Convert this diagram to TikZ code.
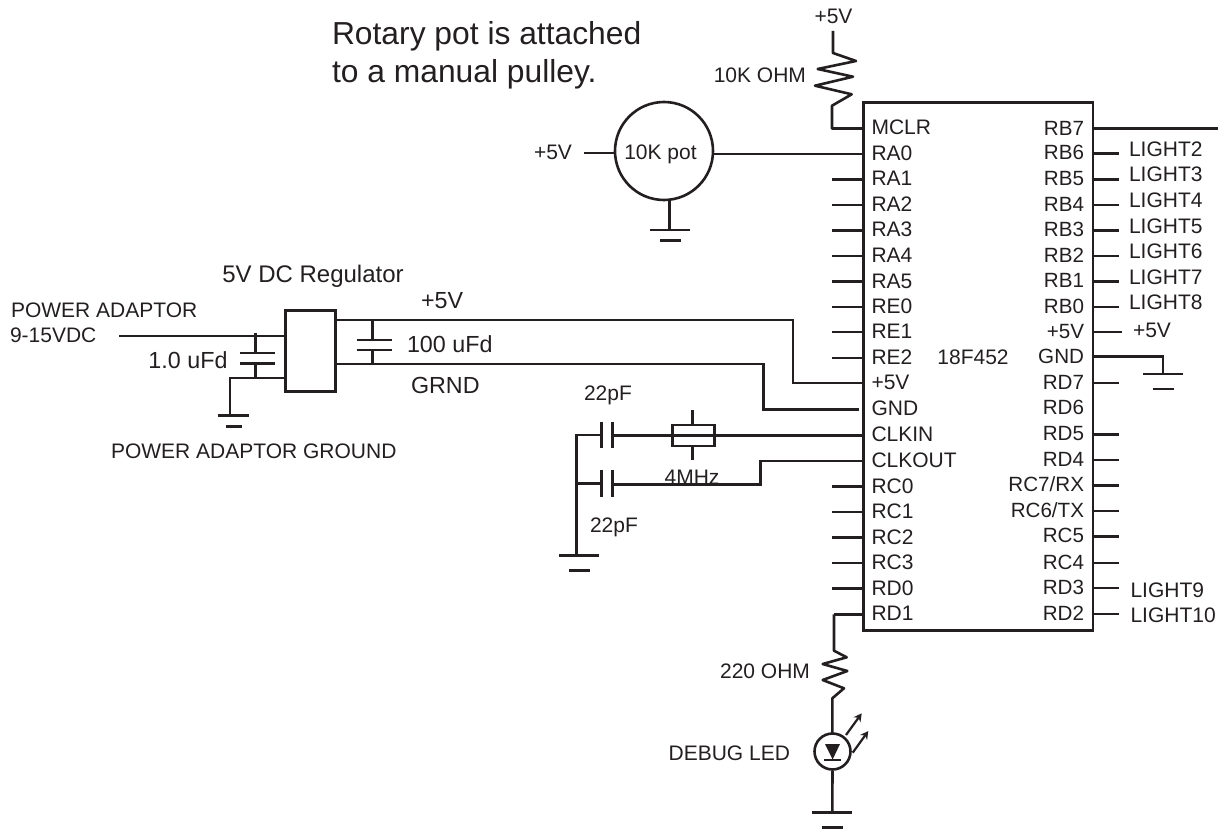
\documentclass[tikz,border=0pt]{standalone}
\usepackage{fontspec}
\setmainfont{Liberation Sans}
\usetikzlibrary{arrows.meta}
\definecolor{ink}{HTML}{231F20}
\tikzset{
  wire/.style={line width=2.6pt,draw=ink,line cap=butt,line join=miter},
  lbl/.style={inner sep=0pt,outer sep=0pt,text=ink,font=\fontsize{21}{24}\selectfont},
  lblb/.style={lbl,font=\fontsize{23.3}{26}\selectfont},
  lpin/.style={lbl,anchor=base west},
  rpin/.style={lbl,anchor=base east,font=\fontsize{20.6}{24}\selectfont},
  big/.style={lbl,anchor=base west,font=\fontsize{31.8}{34}\selectfont},
  pt/.style={inner sep=0pt,minimum size=0pt},
  gnd/.pic={\draw[wire] (-20,0) -- (20,0); \draw[wire] (-10.5,15) -- (10.5,15);},
  tipa/.style={-{Stealth[length=8pt,width=8.5pt]},line width=2.2pt,draw=ink}
}
\begin{document}
\begin{tikzpicture}[x=1pt,y=-1pt]
\useasboundingbox (0,0) rectangle (1218,832);
% chip
\node[draw=ink,line width=2.6pt,inner sep=0,minimum width=229.5pt,minimum height=528pt,anchor=north west] (chip) at (862,101) {};
\node[lbl,anchor=base] (chipname) at (973,364) {18F452};
% left pins
\foreach \n/\t/\y in {mclr/MCLR/128.5,ra0/RA0/154,ra1/RA1/179.5,ra2/RA2/205,ra3/RA3/230.5,ra4/RA4/256,ra5/RA5/281.7,re0/RE0/307,re1/RE1/332,re2/RE2/358,pfive/+5V/383,gndl/GND/409.5,clkin/CLKIN/435.5,clkout/CLKOUT/461,rc0/RC0/486.7,rc1/RC1/512,rc2/RC2/537.7,rc3/RC3/563,rd0/RD0/588.7,rd1/RD1/614.3}{
  \node[pt] (L\n) at (862,\y) {};
  \node[lpin] (T\n) at (871.5,\y+6.3) {\t};
}
\foreach \n in {ra1,ra2,ra3,ra4,ra5,re0,re1,re2,rc0,rc1,rc2,rc3,rd0}{
  \coordinate (E\n) at ([xshift=-30pt]L\n.center);
  \draw[wire] (E\n) -- (L\n.center);
}
% right pins
\foreach \n/\t/\y in {rb7/RB7/128.8,rb6/RB6/153.5,rb5/RB5/179.5,rb4/RB4/205,rb3/RB3/230.5,rb2/RB2/256,rb1/RB1/281.5,rb0/RB0/307,pv/+5V/332,gr/GND/356.7,rd7/RD7/383,rd6/RD6/408.5,rd5/RD5/434.3,rd4/RD4/460,rcs/RC7\slash RX/485.5,rct/RC6\slash TX/511,rc5/RC5/536.3,rc4/RC4/563,rd3/RD3/588,rd2/RD2/614}{
  \node[pt] (R\n) at (1091.5,\y) {};
  \node[rpin] (U\n) at (1084,\y+6.3) {\t};
}
\foreach \n in {rb6,rb5,rb4,rb3,rb2,rb1,rb0,rd7,rd5,rd4,rcs,rct,rc5,rc4,rd3,rd2}{
  \coordinate (F\n) at ([xshift=27.5pt]R\n.center);
  \draw[wire] (R\n.center) -- (F\n);
}
\coordinate (Fpv) at (1122,332);
\draw[wire] (Rpv.center) -- (Fpv);
\coordinate (rb7end) at (1218,128.8);
\draw[wire] (Rrb7.center) -- (rb7end);
% light labels
\foreach \n/\t/\x/\y in {a/LIGHT2/1129/157,b/LIGHT3/1129/182,c/LIGHT4/1129/207,d/LIGHT5/1129/233,e/LIGHT6/1129/258,f/LIGHT7/1129/284,g/LIGHT8/1129/309,h/LIGHT9/1130.5/597,i/LIGHT10/1130.5/622}{
  \node[lbl,anchor=base west] (lt\n) at (\x,\y) {\t};
}
\node[lbl,anchor=base west] (rv) at (1133,337) {+5V};
% GND right
\coordinate (gr1) at (1163,356.7);
\coordinate (gr2) at (1163,374);
\draw[wire] (Rgr.center) -- (gr1) -- (gr2);
\pic at (gr2) {gnd};
% MCLR resistor
\node[lbl,anchor=base] (topv) at (833.5,24) {+5V};
\coordinate (r1a) at (833,31);
\coordinate (r1b) at (832,128.5);
\draw[wire,line join=round] (r1a) -- (833,53) -- (856,61) -- (817.7,69) -- (853,76.7) -- (815,85.7) -- (851.7,94.3) -- (832,105.7) -- (r1b) -- (Lmclr.center);
\node[lbl,anchor=base east] (r1l) at (806,83) {10K OHM};
% Pot
\node[draw=ink,line width=2.6pt,circle,minimum size=98pt,inner sep=0] (pot) at (664,151) {};
\node[lbl,anchor=base] (potl) at (660.5,160) {10K pot};
\coordinate (potr) at ([yshift=-3pt]pot.east);
\draw[wire] (potr) -- (Lra0.center);
\coordinate (pv5) at (584,153);
\coordinate (potw) at ([yshift=-2pt]pot.west);
\draw[wire] (pv5) -- (potw);
\node[lbl,anchor=base] (pv5l) at (553,160) {+5V};
\coordinate (pg) at (669.5,230);
\coordinate (pgt) at (669.5,200);
\draw[wire] (pgt) -- (pg);
\draw[wire] (650,230) -- (690,230);
\draw[wire] (660,240.7) -- (681,240.7);
\node[big] (note1) at (332,45) {Rotary pot is attached};
\node[big] (note2) at (332,83) {to a manual pulley.};
% Regulator
\node[draw=ink,line width=2.6pt,inner sep=0,minimum width=50pt,minimum height=81pt,anchor=north west] (reg) at (284,309) {};
\node[lbl,anchor=base,font=\fontsize{24}{26}\selectfont] (regl) at (313,282) {5V DC Regulator};
\coordinate (pin) at (119,336);
\draw[wire] (pin) -- (reg.west |- pin);
\node[lbl,anchor=base west] (pa1) at (11,317) {POWER ADAPTOR};
\node[lbl,anchor=base west] (pa2) at (10,342) {9-15VDC};
% C1
\draw[wire] (255.7,333) -- (255.7,353); \draw[wire] (240,353) -- (275,353);
\draw[wire] (240,363.7) -- (275,363.7); \draw[wire] (255.7,363.7) -- (255.7,378);
\coordinate (g1) at (230,378);
\coordinate (g2) at (230,415);
\draw[wire] (reg.west |- g1) -- (g1) -- (g2);
\draw[wire] (218,415.5) -- (249,415.5);
\draw[wire] (225.7,426.7) -- (241.7,426.7);
\node[lblb,anchor=base east] (c1l) at (227.5,368) {1.0 uFd};
\node[lbl,anchor=base west] (pag) at (111,458) {POWER ADAPTOR GROUND};
% supply lines
\coordinate (a1) at (336,320);
\coordinate (a2) at (793,320);
\coordinate (a3) at (793,383);
\draw[wire] (a1) -- (a2) -- (a3) -- (Lpfive.center);
\coordinate (b1) at (336,364);
\coordinate (b2) at (763.5,364);
\coordinate (b3) at (763.5,409.5);
\coordinate (b4) at (859,409.5);
\draw[wire] (b1) -- (b2) -- (b3) -- (b4);
\draw[wire] (372.7,320) -- (372.7,340); \draw[wire] (356.7,340) -- (391.7,340);
\draw[wire] (356.7,350) -- (391.7,350); \draw[wire] (372.7,350) -- (372.7,364);
\node[lblb,anchor=base west] (c2l) at (407,352) {100 uFd};
\node[lblb,anchor=base west] (pl5) at (421,308) {+5V};
\node[lblb,anchor=base west] (grl) at (411,393) {GRND};
% Crystal
\node[draw=ink,line width=2.6pt,inner sep=0,minimum width=42pt,minimum height=21pt] (xtal) at (693.3,435.5) {};
\draw[wire] (692.7,410) -- (692.7,424.5); \draw[wire] (692.7,446) -- (692.7,459.5);
\draw[wire] (xtal.west) -- (xtal.east);
\draw[wire] (xtal.east) -- (Lclkin.center);
\draw[wire] (612,435.5) -- (xtal.west);
\draw[wire] (601.7,422.3) -- (601.7,448.3); \draw[wire] (612.3,422.3) -- (612.3,448.3);
\draw[wire] (600,435) -- (576.7,435) -- (576.7,556);
\draw[wire] (600,483.3) -- (576,483.3);
\draw[wire] (601.7,470) -- (601.7,496.7); \draw[wire] (612.3,470) -- (612.3,496.7);
\coordinate (k1) at (760.7,484.7);
\coordinate (k2) at (760.7,461);
\draw[wire] (613,484.7) -- (k1) -- (k2) -- (Lclkout.center);
\coordinate (g3) at (579.3,555.7);
\pic at (g3) {gnd};
\node[lbl,anchor=base west] (c3l) at (584,400) {22pF};
\node[lbl,anchor=base west] (c4l) at (590,532.7) {22pF};
\node[lbl,anchor=base] (xl) at (692,484) {4MHz};
% RD1 branch
\coordinate (d1) at (834,614.3);
\draw[wire] (Lrd1.center) -- (d1);
\draw[wire,line join=round] (d1) -- (834,650.7) -- (846.7,657.3) -- (822.7,664) -- (847.3,671) -- (822.7,680) -- (844,688.3) -- (832.3,698.3) -- (832.3,733);
\node[lbl,anchor=base east] (r2l) at (810,678) {220 OHM};
\node[draw=ink,line width=2.6pt,circle,minimum size=36pt,inner sep=0] (led) at (832.5,751.5) {};
\fill[ink] (825,744) -- (840,744) -- (832.6,759.5) -- cycle;
\draw[wire] (824,760) -- (841,760);
\draw[tipa] (846,735) -- (861.7,713.3);
\draw[tipa] (852.7,752.7) -- (868.3,731);
\node[lbl,anchor=base east] (dbg) at (790,760) {DEBUG LED};
\coordinate (g4) at (832.3,812.7);
\draw[wire] (led.south) -- (g4);
\pic at (g4) {gnd};
\end{tikzpicture}
\end{document}
